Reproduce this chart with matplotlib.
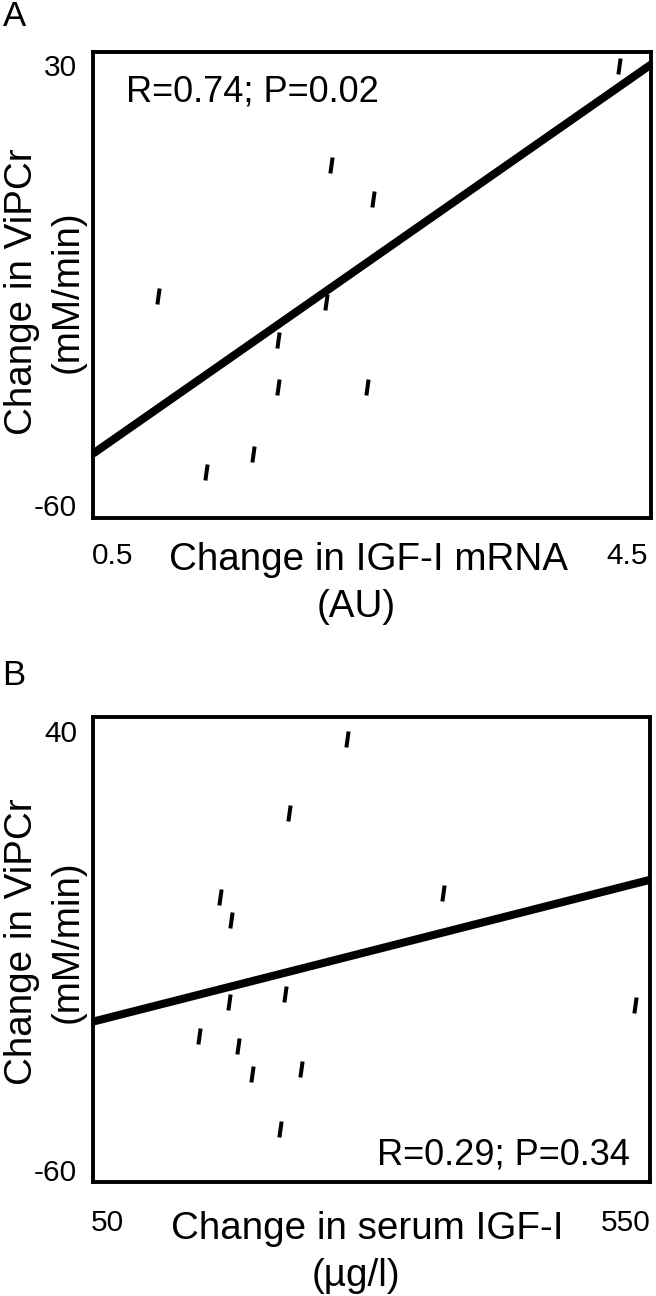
import numpy as np
import matplotlib
matplotlib.use("Agg")
import matplotlib.pyplot as plt
from matplotlib.path import Path

plt.rcParams['font.family'] = ['Liberation Sans', 'DejaVu Sans']

# ---------------- data ----------------
# Panel A: change in IGF-I mRNA (AU) vs change in ViPCr (mM/min)
a_x = [4.44, 2.20, 2.52, 0.85, 2.16, 1.78, 1.78, 2.48, 1.59, 1.22]
a_y = [29.7, 9.5, 2.4, -17.4, -18.5, -26.4, -35.9, -35.9, -49.6, -53.4]
a_fit_x = [0.344, 4.687]
a_fit_y = [-49.6, 30.0]
a_xlim = [0.344, 4.687]
a_ylim = [-62.76, 32.56]
a_xticks = [0.5, 4.5]
a_xticklabels = ["0.5", "4.5"]
a_yticks = [-60, 30]
a_yticklabels = ["-60", "30"]
a_stats = "R=0.74; P=0.02"

# Panel B: change in serum IGF-I (µg/l) vs change in ViPCr (mM/min)
b_x = [281.8, 225.3, 158.6, 169.5, 373.7, 167.5, 221.5, 559.6, 138.4, 176.2,
       189.4, 236.9, 216.7]
b_y = [38.2, 21.3, 2.3, -3.1, 3.1, -21.7, -19.9, -22.4, -29.5, -31.8,
       -38.1, -37.0, -50.7]
b_fit_x = [36.5, 573.6]
b_fit_y = [-26.2, 6.1]
b_xlim = [36.5, 573.6]
b_ylim = [-62.73, 43.19]
b_xticks = [50, 550]
b_xticklabels = ["50", "550"]
b_yticks = [-60, 40]
b_yticklabels = ["-60", "40"]
b_stats = "R=0.29; P=0.34"

ylabel_1 = "Change in ViPCr"
ylabel_2 = "(mM/min)"
a_xlabel_1 = "Change in IGF-I mRNA"
a_xlabel_2 = "(AU)"
b_xlabel_1 = "Change in serum IGF-I"
b_xlabel_2 = "(\u00b5g/l)"

# ---------------- layout ----------------
W, H = 656, 1296
DPI = 100
fig = plt.figure(figsize=(W / DPI, H / DPI), dpi=DPI)
fig.patch.set_facecolor('white')


def fx(px):
    return px / W


def fy(py):
    return 1 - py / H


def axes_px(left, top, right, bottom):
    return [fx(left), fy(bottom), (right - left) / W, (bottom - top) / H]


dash = Path([(-0.07, -0.5), (0.07, 0.5)], [Path.MOVETO, Path.LINETO])

TICK_FS = 21.5
LABEL_FS = 27.8
STAT_FS = 26
PANEL_FS = 25


def make_panel(rect, xs, ys, fit_x, fit_y, xlim, ylim, xticks, xtl, yticks, ytl,
               xpad):
    ax = fig.add_axes(rect)
    ax.plot(fit_x, fit_y, color='black', lw=5.8, solid_capstyle='butt',
            clip_on=False, zorder=3)
    ax.plot(xs, ys, linestyle='none', marker=dash, markersize=11.5,
            markeredgewidth=2.9, color='black', zorder=4)
    ax.set_xlim(xlim)
    ax.set_ylim(ylim)
    ax.set_xticks(xticks)
    ax.set_xticklabels(xtl)
    ax.set_yticks(yticks)
    ax.set_yticklabels(ytl)
    ax.tick_params(axis='both', length=0, labelsize=TICK_FS)
    ax.tick_params(axis='x', pad=xpad)
    ax.tick_params(axis='y', pad=11.5)
    for s in ax.spines.values():
        s.set_linewidth(2.8)
        s.set_color('black')
    return ax


axA = make_panel(axes_px(93, 52, 651, 518), a_x, a_y, a_fit_x, a_fit_y,
                 a_xlim, a_ylim, a_xticks, a_xticklabels, a_yticks,
                 a_yticklabels, 17.5)
axB = make_panel(axes_px(93, 717, 650, 1182), b_x, b_y, b_fit_x, b_fit_y,
                 b_xlim, b_ylim, b_xticks, b_xticklabels, b_yticks,
                 b_yticklabels, 19.5)

# panel letters
fig.text(fx(3), fy(26), "A", fontsize=PANEL_FS, ha='left', va='baseline')
fig.text(fx(2), fy(685), "B", fontsize=PANEL_FS, ha='left', va='baseline')

# stats
fig.text(fx(126), fy(101.5), a_stats, fontsize=STAT_FS, ha='left', va='baseline')
fig.text(fx(630), fy(1164.5), b_stats, fontsize=STAT_FS, ha='right', va='baseline')

# y labels
for cy in (292, 942):
    fig.text(fx(32), fy(cy), ylabel_1, fontsize=LABEL_FS, rotation=90,
             ha='center', va='baseline', rotation_mode='anchor')
    fig.text(fx(78), fy(cy), ylabel_2, fontsize=LABEL_FS, rotation=90,
             ha='center', va='baseline', rotation_mode='anchor')

# x labels
fig.text(fx(368), fy(570), a_xlabel_1, fontsize=LABEL_FS, ha='center', va='baseline')
fig.text(fx(356), fy(617), a_xlabel_2, fontsize=LABEL_FS, ha='center', va='baseline')
fig.text(fx(367), fy(1239), b_xlabel_1, fontsize=LABEL_FS, ha='center', va='baseline')
fig.text(fx(356), fy(1286), b_xlabel_2, fontsize=LABEL_FS, ha='center', va='baseline')

fig.savefig("out.png", dpi=DPI, facecolor='white')
